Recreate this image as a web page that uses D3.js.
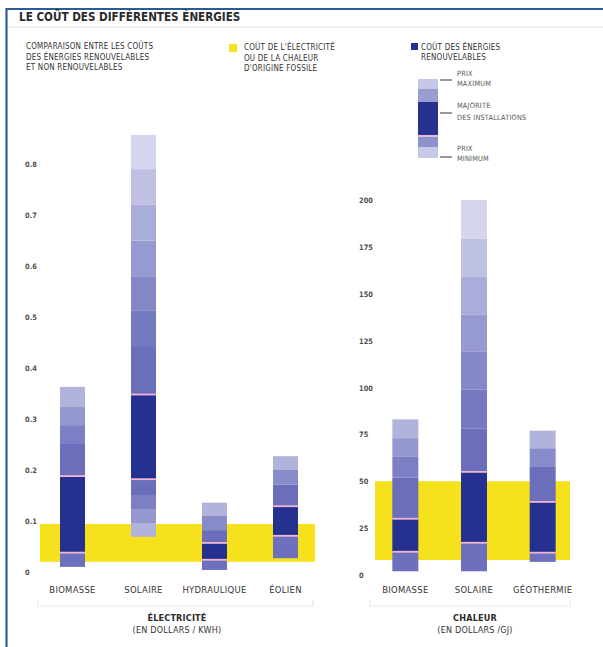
<!DOCTYPE html>
<html>
<head>
<meta charset="utf-8">
<script src="https://cdn.jsdelivr.net/npm/d3@7"></script>
<style>
  html, body { margin: 0; padding: 0; background: #fff; }
  svg text { font-family: "DejaVu Sans Condensed", "DejaVu Sans", sans-serif; font-stretch: condensed; }
</style>
</head>
<body>
<svg id="chart" width="603" height="647"></svg>
<script>
// ---- Électricité (dollars / kWh) ----
const elecCategories = ["BIOMASSE", "SOLAIRE", "HYDRAULIQUE", "ÉOLIEN"];
const elecMin          = [0.010, 0.069, 0.004, 0.027];
const elecMajorityLow  = [0.038, 0.182, 0.024, 0.071];
const elecMajorityHigh = [0.188, 0.348, 0.057, 0.129];
const elecMax          = [0.363, 0.857, 0.136, 0.227];
// intermediate price levels above / below the majority range
const elecUpperSteps = [[0.251, 0.288, 0.325], [0.443, 0.512, 0.580, 0.650, 0.720, 0.790], [0.082, 0.110], [0.171, 0.200]];
const elecLowerSteps = [[], [0.096, 0.122, 0.151], [], []];
const elecFossil = [0.020, 0.094];
const elecTicks = [0, 0.1, 0.2, 0.3, 0.4, 0.5, 0.6, 0.7, 0.8];

// ---- Chaleur (dollars / GJ) ----
const heatCategories = ["BIOMASSE", "SOLAIRE", "GÉOTHERMIE"];
const heatMin          = [2, 2, 7];
const heatMajorityLow  = [12.4, 17.2, 11.9];
const heatMajorityHigh = [30, 55, 39];
const heatMax          = [83, 200, 77];
const heatUpperSteps = [[52, 63, 73], [78, 99, 119, 139, 159, 179.5], [58, 67.6]];
const heatLowerSteps = [[], [], []];
const heatFossil = [8, 50];
const heatTicks = [0, 25, 50, 75, 100, 125, 150, 175, 200];

const DARK = "#253190", YELLOW = "#f5e11c", SEP = "#f2b7cf", TXT = "#333";
const shade = d3.interpolateRgb("#6a6ebb", "#d5d6ed");

const svg = d3.select("#chart");

// frame
svg.append("rect").attr("x", 0).attr("y", 0).attr("width", 603).attr("height", 647).attr("fill", "#fff");
svg.append("line").attr("x1", 6).attr("x2", 603).attr("y1", 9).attr("y2", 9).attr("stroke", "#2b5d95").attr("stroke-width", 2.2);
svg.append("line").attr("x1", 6.5).attr("x2", 6.5).attr("y1", 8).attr("y2", 647).attr("stroke", "#2b5d95").attr("stroke-width", 2.2);
svg.append("line").attr("x1", 8).attr("x2", 603).attr("y1", 27).attr("y2", 27).attr("stroke", "#dde2ea").attr("stroke-width", 1);

svg.append("text").attr("x", 19).attr("y", 21).attr("font-size", 11.6).attr("font-weight", "bold")
  .attr("fill", "#2a2a2a").text("LE COÛT DES DIFFÉRENTES ÉNERGIES");

function lines(x, y, arr, opts) {
  const t = svg.append("text").attr("x", x).attr("y", y)
    .attr("font-size", opts.size).attr("fill", opts.fill || TXT)
    .attr("letter-spacing", opts.ls || 0);
  arr.forEach((s, i) => t.append("tspan").attr("x", x).attr("dy", i ? opts.lh : 0).text(s));
  return t;
}

lines(26, 49, ["COMPARAISON ENTRE LES COÛTS", "DES ÉNERGIES RENOUVELABLES", "ET NON RENOUVELABLES"], { size: 8, lh: 10.6, ls: 0.2 });

// legend: fossil cost
svg.append("rect").attr("x", 229).attr("y", 44).attr("width", 8).attr("height", 8).attr("fill", YELLOW);
lines(244, 50, ["COÛT DE L'ÉLECTRICITÉ", "OU DE LA CHALEUR", "D'ORIGINE FOSSILE"], { size: 8, lh: 10.6, ls: 0.2 });

// legend: renewable cost
svg.append("rect").attr("x", 411).attr("y", 43).attr("width", 7).attr("height", 7).attr("fill", DARK);
lines(421, 49.5, ["COÛT DES ÉNERGIES", "RENOUVELABLES"], { size: 8, lh: 10.6, ls: 0.2 });

const legendSegs = [
  { y0: 79, y1: 89, c: "#c6c8e7" },
  { y0: 89, y1: 102, c: "#9a9dd2" },
  { y0: 102, y1: 135, c: DARK },
  { y0: 136.5, y1: 147, c: "#8c90cb" },
  { y0: 147, y1: 158, c: "#c6c8e7" }
];
svg.append("g").selectAll("rect").data(legendSegs).join("rect")
  .attr("x", 418).attr("width", 20).attr("y", d => d.y0).attr("height", d => d.y1 - d.y0).attr("fill", d => d.c);
svg.append("line").attr("x1", 418).attr("x2", 438).attr("y1", 135.7).attr("y2", 135.7).attr("stroke", SEP).attr("stroke-width", 1.5);
[80, 113, 157].forEach(y => svg.append("line").attr("x1", 440).attr("x2", 452).attr("y1", y).attr("y2", y)
  .attr("stroke", "#333").attr("stroke-width", 1));
lines(457, 75.5, ["PRIX", "MAXIMUM"], { size: 7.3, lh: 10, fill: "#555", ls: 0.2 });
lines(457, 107.5, ["MAJORITE", "DES INSTALLATIONS"], { size: 7.3, lh: 12, fill: "#555", ls: 0.2 });
lines(457, 150.5, ["PRIX", "MINIMUM"], { size: 7.3, lh: 10, fill: "#555", ls: 0.2 });

function panel(cfg) {
  const y = d3.scaleLinear().domain(cfg.domain).range(cfg.yRange);
  const x = d3.scalePoint().domain(cfg.categories).range(cfg.xRange).padding(0.5);
  const g = svg.append("g");

  // fossil cost band
  g.append("rect").attr("x", cfg.band[0]).attr("width", cfg.band[1] - cfg.band[0])
    .attr("y", y(cfg.fossil[1])).attr("height", y(cfg.fossil[0]) - y(cfg.fossil[1])).attr("fill", YELLOW);

  // axis labels
  const axis = d3.axisLeft(y).tickValues(cfg.ticks).tickSize(0).tickFormat(cfg.fmt);
  const ag = g.append("g").attr("transform", `translate(${cfg.axisX},0)`).call(axis);
  ag.select(".domain").remove();
  ag.selectAll("text").attr("text-anchor", "start").attr("x", 0).attr("dy", "0.35em")
    .attr("font-size", 7.4).attr("font-weight", "bold").attr("fill", "#505050")
    .style("font-family", "'DejaVu Sans Condensed','DejaVu Sans',sans-serif");

  // stacked price ranges
  cfg.categories.forEach((cat, i) => {
    const segs = [];
    const up = [cfg.majHigh[i], ...cfg.upper[i], cfg.max[i]];
    const nu = up.length - 1;
    const topT = nu >= 6 ? 1 : 0.66;
    for (let k = 0; k < nu; k++) {
      const t = nu === 1 ? 0 : Math.pow(k / (nu - 1), 1.25) * topT;
      segs.push({ lo: up[k], hi: up[k + 1], c: shade(t) });
    }
    const dn = [cfg.majLow[i], ...cfg.lower[i].slice().reverse(), cfg.min[i]];
    const nd = dn.length - 1;
    const botT = nd >= 6 ? 1 : 0.66;
    for (let k = 0; k < nd; k++) {
      const t = nd === 1 ? 0.03 : Math.pow(k / (nd - 1), 1.25) * botT;
      segs.push({ lo: dn[k + 1], hi: dn[k], c: shade(t) });
    }
    segs.push({ lo: cfg.majLow[i], hi: cfg.majHigh[i], c: DARK });
    const cx = x(cat), w = cfg.barW;
    g.append("g").selectAll("rect").data(segs).join("rect")
      .attr("x", cx - w / 2).attr("width", w)
      .attr("y", d => y(d.hi)).attr("height", d => y(d.lo) - y(d.hi)).attr("fill", d => d.c);
    g.append("g").selectAll("line").data([cfg.majLow[i], cfg.majHigh[i]]).join("line")
      .attr("x1", cx - w / 2).attr("x2", cx + w / 2).attr("y1", d => y(d)).attr("y2", d => y(d))
      .attr("stroke", SEP).attr("stroke-width", 1.8);
    g.append("text").attr("x", cx).attr("y", 592.5).attr("text-anchor", "middle")
      .attr("font-size", 9.4).attr("letter-spacing", 0.3).attr("fill", "#333").text(cat);
  });

  // bracket under category labels
  g.append("path").attr("d", `M${cfg.bracket[0]},600 V606 H${cfg.bracket[1]} V600`)
    .attr("fill", "none").attr("stroke", "#eee4e6").attr("stroke-width", 1.2);

  lines(cfg.titleX, 621, [cfg.title], { size: 9, ls: 0.2 }).attr("text-anchor", "middle").attr("font-weight", "bold").attr("fill", "#2a2a2a");
  lines(cfg.titleX, 632.5, [cfg.unit], { size: 9, ls: 0.2 }).attr("text-anchor", "middle").attr("fill", "#333");
}

panel({
  categories: elecCategories, min: elecMin, majLow: elecMajorityLow, majHigh: elecMajorityHigh, max: elecMax,
  upper: elecUpperSteps, lower: elecLowerSteps, fossil: elecFossil, ticks: elecTicks,
  domain: [0, 0.8], yRange: [572, 164], xRange: [37, 321], barW: 25, band: [40, 315],
  axisX: 25, fmt: d => d === 0 ? "0" : d3.format(".1f")(d),
  bracket: [38, 313], titleX: 177, title: "ÉLECTRICITÉ", unit: "(EN DOLLARS / KWH)"
});

panel({
  categories: heatCategories, min: heatMin, majLow: heatMajorityLow, majHigh: heatMajorityHigh, max: heatMax,
  upper: heatUpperSteps, lower: heatLowerSteps, fossil: heatFossil, ticks: heatTicks,
  domain: [0, 200], yRange: [575, 200], xRange: [371, 577], barW: 26, band: [375, 570],
  axisX: 359, fmt: d3.format("d"),
  bracket: [370, 570], titleX: 475, title: "CHALEUR", unit: "(EN DOLLARS /GJ)"
});
</script>
</body>
</html>
